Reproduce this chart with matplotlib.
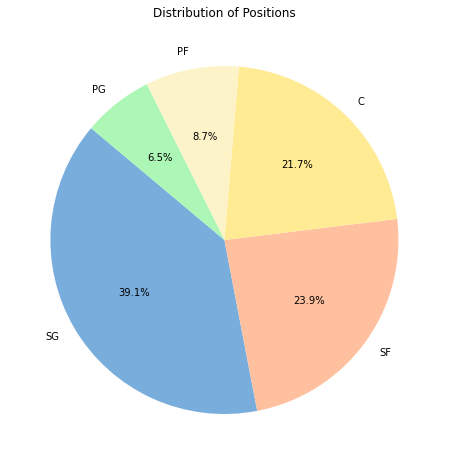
import matplotlib
matplotlib.use('Agg')
import matplotlib.pyplot as plt

# position counts (46 players)
positions = ['SG', 'SF', 'C', 'PF', 'PG']
counts = [18, 11, 10, 4, 3]
colors = ['#79ADDC', '#FFC09F', '#FFEB94', '#FDF3C9', '#ADF7B6']

fig = plt.figure(figsize=(449/72, 465/72), dpi=72)
# axes placed so the pie sits where it does in the reference
ax = fig.add_axes([6.9/449, 7.5/465, 435/449, 435/465])
ax.pie(counts, labels=positions, colors=colors, autopct='%1.1f%%', startangle=140)
ax.set_title('Distribution of Positions')
ax.axis('equal')
ax.set_xlim(-1.25, 1.25)
ax.set_ylim(-1.25, 1.25)

fig.savefig('out.png', dpi=72)
